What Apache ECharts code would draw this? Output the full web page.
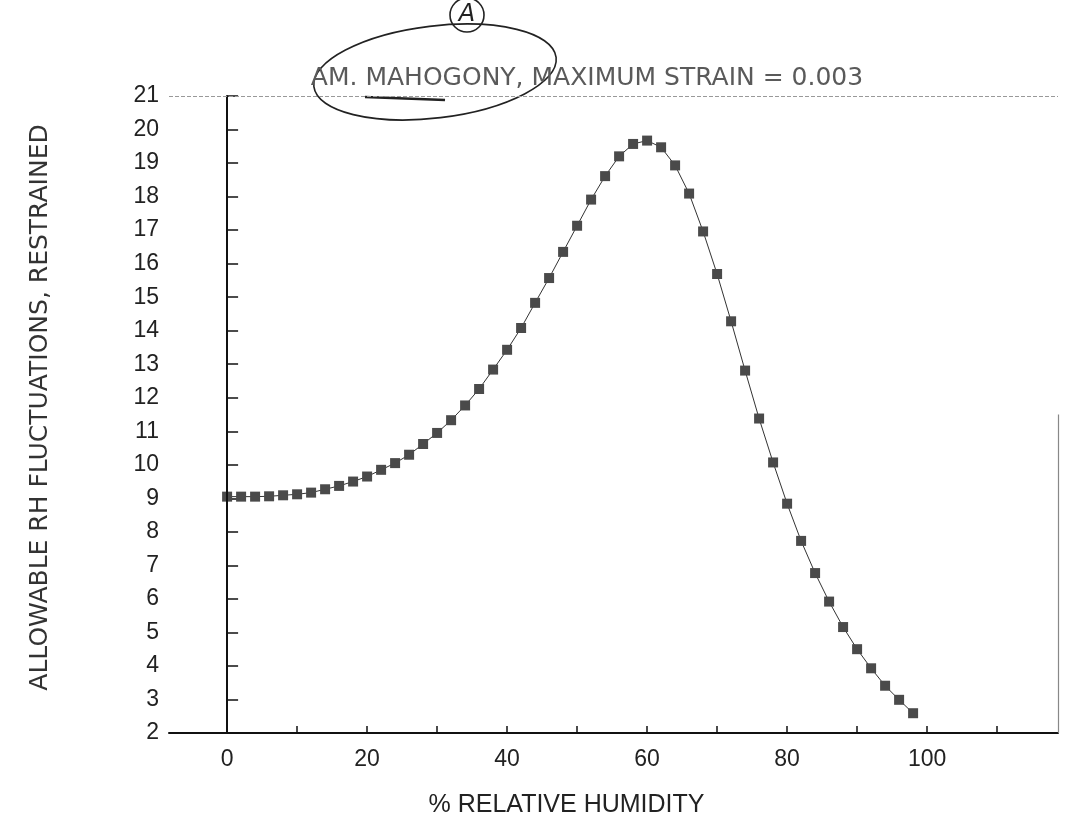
<!DOCTYPE html>
<html>
<head>
<meta charset="utf-8">
<script src="https://cdn.jsdelivr.net/npm/echarts@6/dist/echarts.min.js"></script>
<style>
html,body{margin:0;padding:0;background:#fff;}
#chart{width:1066px;height:824px;}
</style>
</head>
<body>
<div id="chart"></div>
<script>
// ---- data ----
var chartTitle = 'AM. MAHOGONY, MAXIMUM STRAIN = 0.003';
var xAxisTitle = '% RELATIVE HUMIDITY';
var yAxisTitle = 'ALLOWABLE RH FLUCTUATIONS, RESTRAINED';
var relativeHumidity = [0, 2, 4, 6, 8, 10, 12, 14, 16, 18, 20, 22, 24, 26, 28, 30, 32, 34, 36, 38,
  40, 42, 44, 46, 48, 50, 52, 54, 56, 58, 60, 62, 64, 66, 68, 70, 72, 74, 76, 78,
  80, 82, 84, 86, 88, 90, 92, 94, 96, 98];
var allowableFluctuation = [9.05, 9.05, 9.05, 9.06, 9.09, 9.12, 9.17, 9.27, 9.37, 9.50,
  9.65, 9.85, 10.05, 10.30, 10.62, 10.95, 11.33, 11.77, 12.26, 12.84,
  13.43, 14.08, 14.83, 15.57, 16.35, 17.13, 17.91, 18.61, 19.20, 19.57,
  19.67, 19.47, 18.93, 18.09, 16.96, 15.69, 14.28, 12.81, 11.38, 10.07,
  8.84, 7.73, 6.77, 5.92, 5.16, 4.50, 3.93, 3.41, 2.99, 2.59];
var xTickValues = [0, 10, 20, 30, 40, 50, 60, 70, 80, 90, 100, 110];
var xLabelValues = [0, 20, 40, 60, 80, 100];
var yMin = 2, yMax = 21;

var seriesData = relativeHumidity.map(function (x, i) { return [x, allowableFluctuation[i]]; });

var chart = echarts.init(document.getElementById('chart'), null, {renderer: 'canvas'});
var font = 'Liberation Sans, Arial, Helvetica, sans-serif';
var option = {
  backgroundColor: '#ffffff',
  animation: false,
  title: {
    text: chartTitle,
    left: 582, top: 61, textAlign: 'center',
    textStyle: {fontFamily: 'DejaVu Sans, sans-serif', fontSize: 25, fontWeight: 'normal', color: '#5a5a5a'}
  },
  grid: {left: 169, right: 8, top: 96, bottom: 91, containLabel: false},
  xAxis: {
    type: 'value', min: -8.3, max: 118.7,
    name: xAxisTitle, nameLocation: 'middle', nameGap: 60,
    nameTextStyle: {fontFamily: font, fontSize: 25, color: '#222', padding: [0, 94, 0, 0]},
    axisLine: {show: true, lineStyle: {color: '#111', width: 2}},
    axisTick: {show: true, inside: true, length: 7, customValues: xTickValues, lineStyle: {color: '#111', width: 1.5}},
    axisLabel: {show: true, customValues: xLabelValues, fontFamily: font, fontSize: 23, color: '#222', margin: 15},
    splitLine: {show: false}
  },
  yAxis: {
    type: 'value', min: yMin, max: yMax, interval: 1,
    name: yAxisTitle, nameLocation: 'middle', nameGap: 116, nameRotate: 90,
    nameTextStyle: {fontFamily: 'DejaVu Sans, sans-serif', fontSize: 25, color: '#333', padding: [0, 0, 0, 14]},
    axisLine: {show: true, lineStyle: {color: '#111', width: 2}},
    axisTick: {show: true, inside: true, length: 11, lineStyle: {color: '#111', width: 1.5}},
    axisLabel: {show: true, fontFamily: font, fontSize: 23, color: '#222', margin: 10},
    splitLine: {show: false}
  },
  series: [{
    type: 'line',
    data: seriesData,
    symbol: 'rect', symbolSize: 10,
    itemStyle: {color: '#4a4a4a'},
    lineStyle: {color: '#333', width: 1},
    markLine: {
      silent: true, symbol: 'none', label: {show: false},
      data: [
        [{coord: [0, yMin], lineStyle: {color: '#111', width: 2, type: 'solid'}}, {coord: [0, yMax]}],
        [{coord: [-8.3, yMax], lineStyle: {color: '#999', width: 1, type: 'dashed'}}, {coord: [118.7, yMax]}],
        [{coord: [118.7, yMin], lineStyle: {color: '#888', width: 1.2, type: 'solid'}}, {coord: [118.7, 11.5]}]
      ]
    }
  }],
  graphic: [
    {type: 'ellipse', shape: {cx: 435, cy: 72, rx: 122, ry: 46}, rotation: 0.12, originX: 435, originY: 72,
     style: {fill: 'none', stroke: '#222', lineWidth: 1.6}},
    {type: 'circle', shape: {cx: 467, cy: 15, r: 17}, style: {fill: 'none', stroke: '#222', lineWidth: 1.6}},
    {type: 'text', x: 467, y: 15, style: {text: 'A', fontFamily: 'DejaVu Sans, sans-serif', fontStyle: 'italic', fontSize: 24, fill: '#222', align: 'center', verticalAlign: 'middle'}},
    {type: 'line', shape: {x1: 365, y1: 97, x2: 445, y2: 100}, style: {stroke: '#222', lineWidth: 2.5}}
  ]
};
chart.setOption(option);
</script>
</body>
</html>
